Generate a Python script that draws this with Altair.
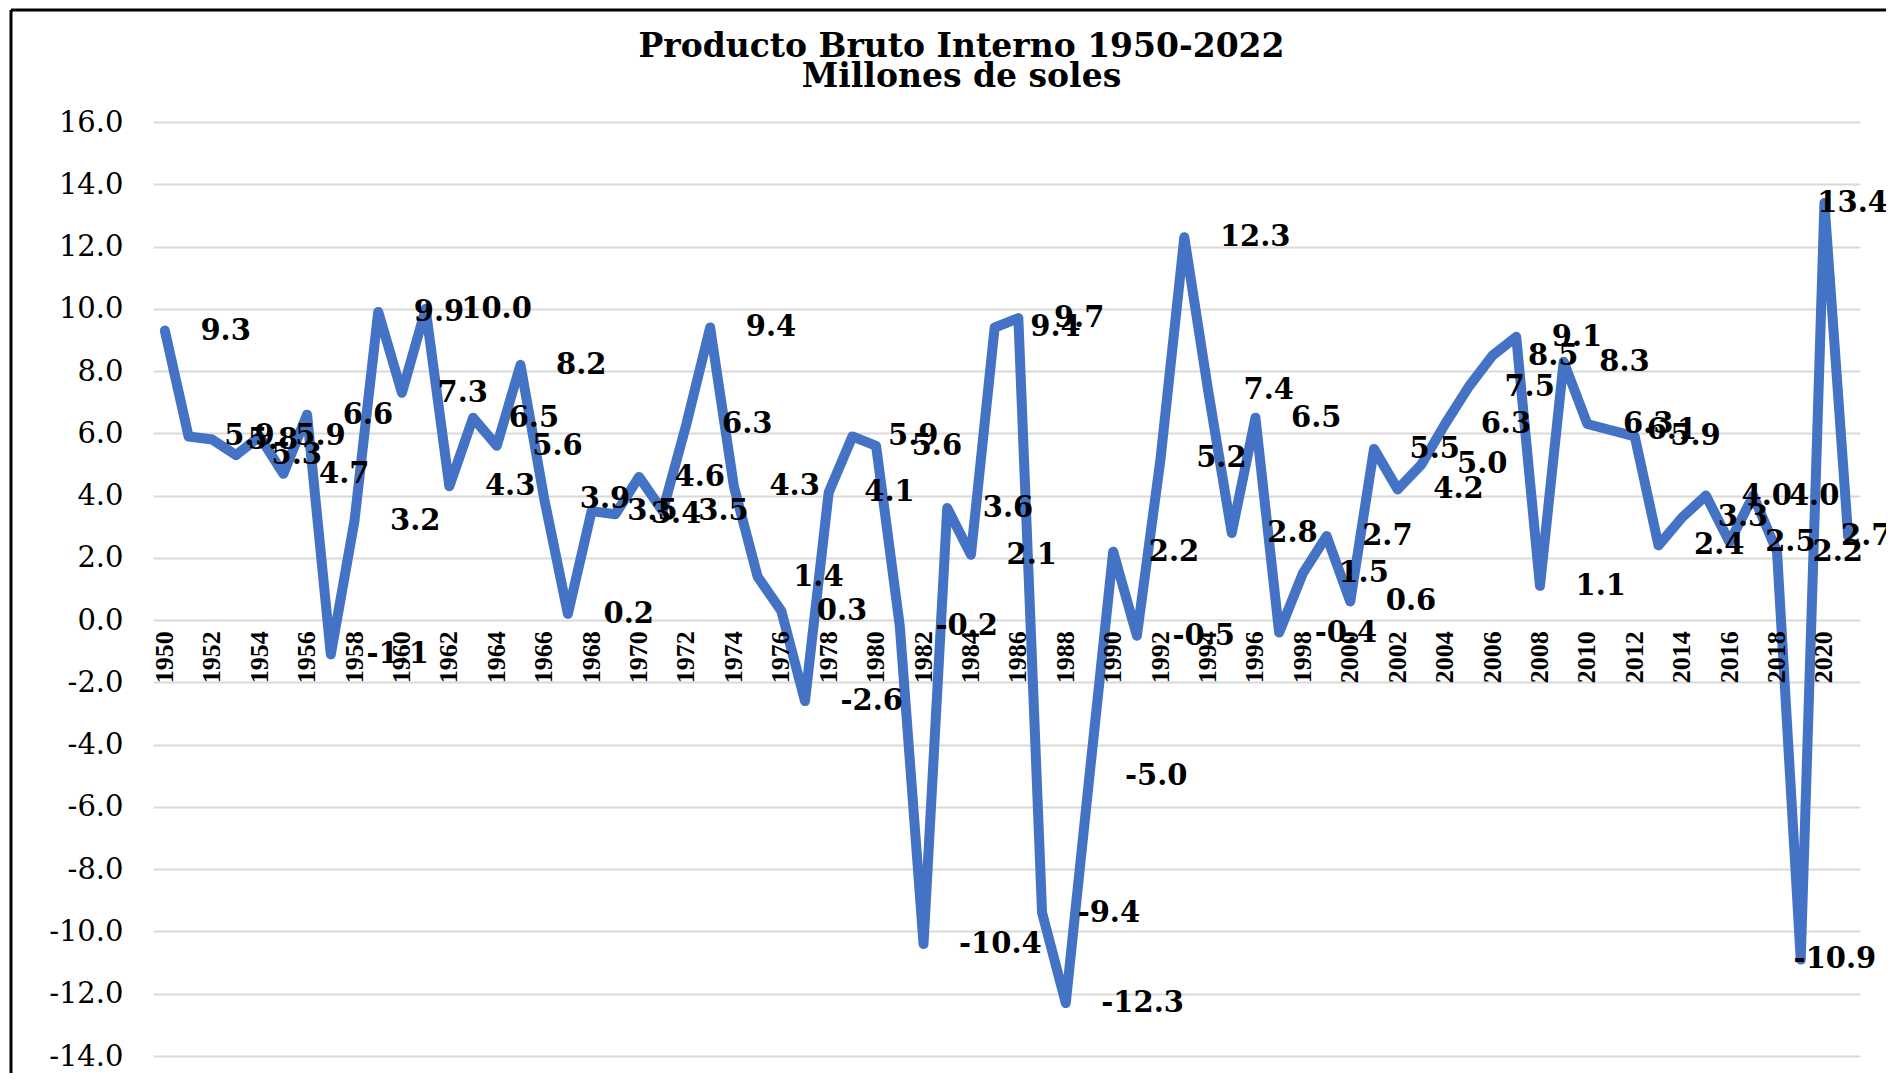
import altair as alt
import pandas as pd

# ---- data ----
years = list(range(1950, 2022))
values = [
    9.3, 5.9, 5.8, 5.3, 5.9, 4.7, 6.6, -1.1, 3.2, 9.9,
    7.3, 10.0, 4.3, 6.5, 5.6, 8.2, 3.9, 0.2, 3.5, 3.4,
    4.6, 3.5, 6.3, 9.4, 4.3, 1.4, 0.3, -2.6, 4.1, 5.9,
    5.6, -0.2, -10.4, 3.6, 2.1, 9.4, 9.7, -9.4, -12.3, -5.0,
    2.2, -0.5, 5.2, 12.3, 7.4, 2.8, 6.5, -0.4, 1.5, 2.7,
    0.6, 5.5, 4.2, 5.0, 6.3, 7.5, 8.5, 9.1, 1.1, 8.3,
    6.3, 6.1, 5.9, 2.4, 3.3, 4.0, 2.5, 4.0, 2.2, -10.9,
    13.4, 2.7,
]
title_lines = ["Producto Bruto Interno 1950-2022", "Millones  de soles"]
y_ticks = list(range(-14, 17, 2))

n = len(values)
idx = list(range(n))
df = pd.DataFrame({"idx": idx, "year": years, "value": values})
df["label"] = [f"{v:.1f}" for v in values]
# data labels sit to the right of their points (pulled in at the right edge)
df["label_x"] = [i + 1.5 if i < n - 3 else i - 0.3 for i in idx]

year_df = pd.DataFrame({
    "idx": [i for i in idx if i % 2 == 0],
    "year_str": [str(years[i]) for i in idx if i % 2 == 0],
})
year_df["zero"] = 0.0

xscale = alt.Scale(domain=[-0.5, n - 0.5], nice=False, zero=False)
yscale = alt.Scale(domain=[-14, 16], nice=False, zero=False)

yaxis = alt.Axis(
    values=y_ticks,
    labelExpr="datum.value < 0 ? '-' + format(-datum.value, '.1f') : format(datum.value, '.1f')",
    grid=True, gridColor="#D9D9D9", gridWidth=2,
    domain=False, ticks=False,
    labelFont="DejaVu Serif", labelFontSize=29, labelColor="#000000",
    labelPadding=30, title=None,
)

line = alt.Chart(df).mark_line(
    color="#4472C4", strokeWidth=10, strokeJoin="round", strokeCap="round"
).encode(
    x=alt.X("idx:Q", scale=xscale, axis=None),
    y=alt.Y("value:Q", scale=yscale, axis=yaxis),
)

labels = alt.Chart(df).mark_text(
    font="DejaVu Serif", fontSize=29, fontWeight="bold", color="#000000",
    align="left", baseline="middle",
).encode(
    x=alt.X("label_x:Q", scale=xscale, axis=None),
    y=alt.Y("value:Q", scale=yscale),
    text="label:N",
)

year_labels = alt.Chart(year_df).mark_text(
    font="Liberation Serif", fontSize=26, fontWeight="bold", color="#000000",
    angle=270, align="right", baseline="middle", dx=-11,
).encode(
    x=alt.X("idx:Q", scale=xscale, axis=None),
    y=alt.Y("zero:Q", scale=yscale),
    text="year_str:N",
)

frame_df = pd.DataFrame({"a": [0]})
frame_left = alt.Chart(frame_df).mark_rule(color="#000000", strokeWidth=3).encode(
    x=alt.value(-142), y=alt.value(-112), y2=alt.value(951)
)
frame_top = alt.Chart(frame_df).mark_rule(color="#000000", strokeWidth=3).encode(
    x=alt.value(-142), x2=alt.value(1733), y=alt.value(-112)
)

chart = alt.layer(line, year_labels, labels, frame_left, frame_top).properties(
    width=1707,
    height=934,
    title=alt.TitleParams(
        text=title_lines, font="DejaVu Serif", fontSize=33, fontWeight="bold",
        color="#000000", anchor="middle", frame="group", offset=30, dx=-45,
        dy=115, lineHeight=30,
    ),
    autosize=alt.AutoSizeParams(type="none"),
    padding={"left": 145, "top": 114, "right": 26, "bottom": 17},
    background="white",
).configure_view(stroke=None)

chart.save("out.html", embed_options={"renderer": "svg", "actions": False})
